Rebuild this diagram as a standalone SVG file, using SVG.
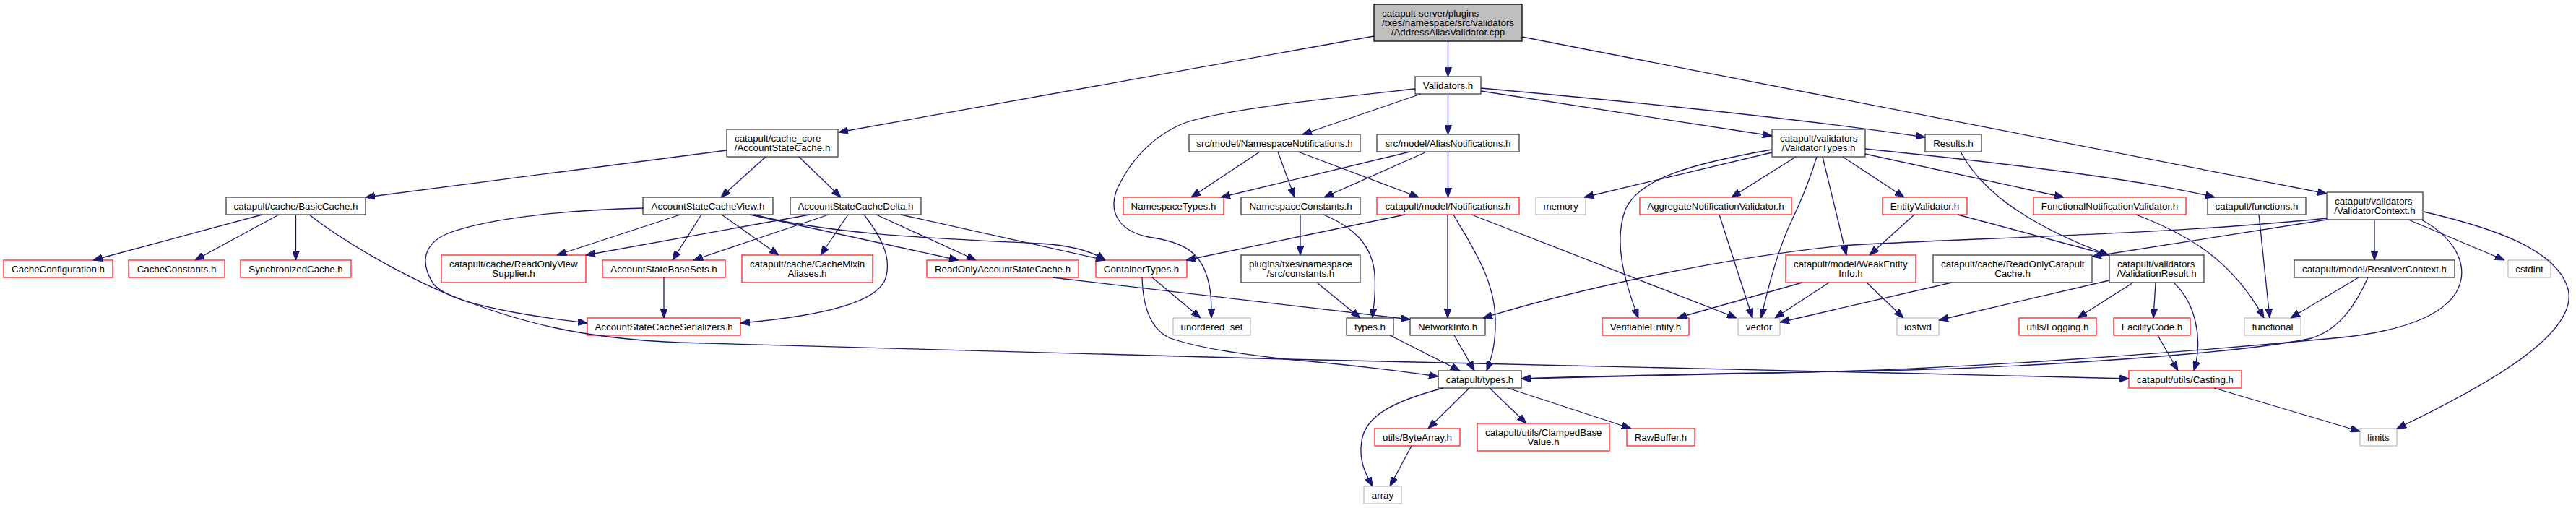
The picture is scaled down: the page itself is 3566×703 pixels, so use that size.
<svg xmlns="http://www.w3.org/2000/svg" width="3566" height="703" viewBox="0 0 3566 703">
<style>
rect{fill:#fff;stroke:#404040;stroke-width:1.3}
.r rect{stroke:#ff2020}
.g rect{stroke:#bfbfbf}
.root rect{fill:#bfbfbf;stroke:#000}
text{font-family:"Liberation Sans",Arial,Helvetica,sans-serif;font-size:13.33px;fill:#000}
.c{text-anchor:middle}
#edges path{fill:none;stroke:#191970;stroke-width:1.3;marker-end:url(#ah)}
</style>
<defs>
<marker id="ah" viewBox="0 0 13 10" refX="13" refY="5" markerWidth="13" markerHeight="10" markerUnits="userSpaceOnUse" orient="auto"><path d="M0,0 L13,5 L0,10 z" fill="#191970" stroke="#191970" stroke-width="1"/></marker>
</defs>
<rect x="0" y="0" width="3566" height="703" style="fill:#fff;stroke:none"/>

<g id="n_root" class="root"><rect x="1902" y="6" width="205" height="51"/><text x="1913" y="23.2">catapult-server/plugins</text><text x="1913" y="36">/txes/namespace/src/validators</text><text class="c" x="2004.5" y="48.8">/AddressAliasValidator.cpp</text></g>
<g id="n_validators"><rect x="1959" y="106" width="91" height="24"/><text class="c" x="2004.5" y="122.5">Validators.h</text></g>
<g id="n_accountstatecache"><rect x="1006" y="179" width="154" height="38"/><text x="1017" y="196.1">catapult/cache_core</text><text class="c" x="1083" y="208.9">/AccountStateCache.h</text></g>
<g id="n_nsnotif"><rect x="1646" y="186" width="237" height="24"/><text class="c" x="1764.5" y="202.5">src/model/NamespaceNotifications.h</text></g>
<g id="n_aliasnotif"><rect x="1906" y="186" width="197" height="24"/><text class="c" x="2004.5" y="202.5">src/model/AliasNotifications.h</text></g>
<g id="n_validatortypes"><rect x="2453" y="179" width="129" height="38"/><text x="2464" y="196.1">catapult/validators</text><text class="c" x="2517.5" y="208.9">/ValidatorTypes.h</text></g>
<g id="n_results"><rect x="2665" y="186" width="78" height="24"/><text class="c" x="2704" y="202.5">Results.h</text></g>

<g id="n_basiccache"><rect x="313" y="273" width="193" height="24"/><text class="c" x="409.5" y="289.5">catapult/cache/BasicCache.h</text></g>
<g id="n_ascview"><rect x="890" y="273" width="180" height="24"/><text class="c" x="980" y="289.5">AccountStateCacheView.h</text></g>
<g id="n_ascdelta"><rect x="1094" y="273" width="181" height="24"/><text class="c" x="1184.5" y="289.5">AccountStateCacheDelta.h</text></g>
<g id="n_nstypes" class="r"><rect x="1555" y="273" width="139" height="24"/><text class="c" x="1624.5" y="289.5">NamespaceTypes.h</text></g>
<g id="n_nsconstants"><rect x="1718" y="273" width="165" height="24"/><text class="c" x="1800.5" y="289.5">NamespaceConstants.h</text></g>
<g id="n_notifications" class="r"><rect x="1906" y="273" width="197" height="24"/><text class="c" x="2004.5" y="289.5">catapult/model/Notifications.h</text></g>
<g id="n_memory" class="g"><rect x="2126" y="273" width="69" height="24"/><text class="c" x="2160.5" y="289.5">memory</text></g>
<g id="n_aggregate" class="r"><rect x="2270" y="273" width="210" height="24"/><text class="c" x="2375" y="289.5">AggregateNotificationValidator.h</text></g>
<g id="n_entityvalidator" class="r"><rect x="2606" y="273" width="117" height="24"/><text class="c" x="2664.5" y="289.5">EntityValidator.h</text></g>
<g id="n_functionalnv" class="r"><rect x="2815" y="273" width="211" height="24"/><text class="c" x="2920.5" y="289.5">FunctionalNotificationValidator.h</text></g>
<g id="n_functions"><rect x="3056" y="273" width="136" height="24"/><text class="c" x="3124" y="289.5">catapult/functions.h</text></g>
<g id="n_validatorcontext"><rect x="3221" y="266" width="133" height="38"/><text x="3232" y="283.1">catapult/validators</text><text class="c" x="3287.5" y="295.9">/ValidatorContext.h</text></g>

<g id="n_cacheconfig" class="r"><rect x="5" y="360" width="151" height="24"/><text class="c" x="80.5" y="376.5">CacheConfiguration.h</text></g>
<g id="n_cacheconstants" class="r"><rect x="178" y="360" width="133" height="24"/><text class="c" x="244.5" y="376.5">CacheConstants.h</text></g>
<g id="n_synccache" class="r"><rect x="333" y="360" width="153" height="24"/><text class="c" x="409.5" y="376.5">SynchronizedCache.h</text></g>
<g id="n_rovs" class="r"><rect x="611" y="353" width="200" height="38"/><text x="622" y="370.1">catapult/cache/ReadOnlyView</text><text class="c" x="711" y="382.9">Supplier.h</text></g>
<g id="n_basesets" class="r"><rect x="834" y="360" width="170" height="24"/><text class="c" x="919" y="376.5">AccountStateBaseSets.h</text></g>
<g id="n_cachemixin" class="r"><rect x="1027" y="353" width="181" height="38"/><text x="1038" y="370.1">catapult/cache/CacheMixin</text><text class="c" x="1117.5" y="382.9">Aliases.h</text></g>
<g id="n_roasc" class="r"><rect x="1283" y="360" width="210" height="24"/><text class="c" x="1388" y="376.5">ReadOnlyAccountStateCache.h</text></g>
<g id="n_containertypes" class="r"><rect x="1517" y="360" width="126" height="24"/><text class="c" x="1580" y="376.5">ContainerTypes.h</text></g>
<g id="n_pluginsconstants"><rect x="1718" y="353" width="165" height="38"/><text x="1729" y="370.1">plugins/txes/namespace</text><text class="c" x="1800.5" y="382.9">/src/constants.h</text></g>
<g id="n_weakentity" class="r"><rect x="2472" y="353" width="180" height="38"/><text x="2483" y="370.1">catapult/model/WeakEntity</text><text class="c" x="2562" y="382.9">Info.h</text></g>
<g id="n_rocc"><rect x="2676" y="353" width="220" height="38"/><text x="2687" y="370.1">catapult/cache/ReadOnlyCatapult</text><text class="c" x="2786" y="382.9">Cache.h</text></g>
<g id="n_validationresult"><rect x="2920" y="353" width="131" height="38"/><text x="2931" y="370.1">catapult/validators</text><text class="c" x="2985.5" y="382.9">/ValidationResult.h</text></g>
<g id="n_resolvercontext"><rect x="3176" y="360" width="222" height="24"/><text class="c" x="3287" y="376.5">catapult/model/ResolverContext.h</text></g>
<g id="n_cstdint" class="g"><rect x="3472" y="360" width="59" height="24"/><text class="c" x="3501.5" y="376.5">cstdint</text></g>

<g id="n_serializers" class="r"><rect x="813" y="440" width="212" height="24"/><text class="c" x="919" y="456.5">AccountStateCacheSerializers.h</text></g>
<g id="n_unorderedset" class="g"><rect x="1624" y="440" width="107" height="24"/><text class="c" x="1677.5" y="456.5">unordered_set</text></g>
<g id="n_typesh"><rect x="1864" y="440" width="65" height="24"/><text class="c" x="1896.5" y="456.5">types.h</text></g>
<g id="n_networkinfo"><rect x="1952" y="440" width="104" height="24"/><text class="c" x="2004" y="456.5">NetworkInfo.h</text></g>
<g id="n_verifiable" class="r"><rect x="2218" y="440" width="120" height="24"/><text class="c" x="2278" y="456.5">VerifiableEntity.h</text></g>
<g id="n_vector" class="g"><rect x="2406" y="440" width="58" height="24"/><text class="c" x="2435" y="456.5">vector</text></g>
<g id="n_iosfwd" class="g"><rect x="2626" y="440" width="58" height="24"/><text class="c" x="2655" y="456.5">iosfwd</text></g>
<g id="n_logging" class="r"><rect x="2795" y="440" width="107" height="24"/><text class="c" x="2848.5" y="456.5">utils/Logging.h</text></g>
<g id="n_facility" class="r"><rect x="2926" y="440" width="106" height="24"/><text class="c" x="2979" y="456.5">FacilityCode.h</text></g>
<g id="n_functional" class="g"><rect x="3107" y="440" width="78" height="24"/><text class="c" x="3146" y="456.5">functional</text></g>

<g id="n_cattypes"><rect x="1991" y="513" width="115" height="24"/><text class="c" x="2048.5" y="529.5">catapult/types.h</text></g>
<g id="n_casting" class="r"><rect x="2947" y="513" width="156" height="24"/><text class="c" x="3025" y="529.5">catapult/utils/Casting.h</text></g>

<g id="n_bytearray" class="r"><rect x="1903" y="593" width="118" height="24"/><text class="c" x="1962" y="609.5">utils/ByteArray.h</text></g>
<g id="n_clamped" class="r"><rect x="2045" y="586" width="183" height="38"/><text x="2056" y="603.1">catapult/utils/ClampedBase</text><text class="c" x="2136.5" y="615.9">Value.h</text></g>
<g id="n_rawbuffer" class="r"><rect x="2252" y="593" width="94" height="24"/><text class="c" x="2299" y="609.5">RawBuffer.h</text></g>
<g id="n_limits" class="g"><rect x="3267" y="593" width="51" height="24"/><text class="c" x="3292.5" y="609.5">limits</text></g>
<g id="n_array" class="g"><rect x="1888" y="673" width="52" height="24"/><text class="c" x="1914" y="689.5">array</text></g>

<g id="edges">
<path d="M1902,50 L1161,183"/>
<path d="M2004.5,57 L2004.5,106"/>
<path d="M2107,51 L3221,268"/>
<path d="M1959,123 C1850,135 1700,150 1640,170 C1590,190 1560,230 1545,265 C1535,295 1550,320 1590,328 C1640,335 1660,350 1670,380 C1677,400 1677,420 1677,440"/>
<path d="M1967,130 L1803,186"/>
<path d="M2004.5,130 L2004.5,186"/>
<path d="M2050,122 C2250,140 2500,165 2665,190"/>
<path d="M2050,126 L2453,188"/>
<path d="M1006,208 L506,273"/>
<path d="M1060,217 L998,273"/>
<path d="M1106,217 L1164,273"/>
<path d="M363,297 L129,360"/>
<path d="M386,297 L270,360"/>
<path d="M409.5,297 L409.5,360"/>
<path d="M428,297 C470,330 560,385 640,415 C720,445 800,468 940,474 L1780,497 L2660,517 L2947,524"/>
<path d="M891,288 C800,290 680,300 620,323 C580,340 585,370 600,393 C615,410 650,420 700,430 C740,438 780,443 813,447"/>
<path d="M942,297 L771,353"/>
<path d="M1121,297 L811,353"/>
<path d="M971,297 L931,360"/>
<path d="M1147,297 L960,360"/>
<path d="M999,297 L1078,353"/>
<path d="M1174,297 L1136,353"/>
<path d="M1196,297 C1218,325 1235,355 1226,385 C1215,420 1130,438 1025,447"/>
<path d="M1038,297 L1327,360"/>
<path d="M1213,297 L1351,360"/>
<path d="M1044,297 C1150,325 1300,330 1440,337 C1490,340 1515,350 1530,360"/>
<path d="M1247,297 L1530,360"/>
<path d="M919,384 L919,440"/>
<path d="M1457,384 L1952,442"/>
<path d="M1595,384 L1662,440"/>
<path d="M1581,384 C1582,420 1590,455 1620,468 C1660,482 1720,490 1780,497 C1870,505 1950,515 1991,521"/>
<path d="M1744,210 L1649,273"/>
<path d="M1769,210 L1792,273"/>
<path d="M1797,210 L1964,273"/>
<path d="M1952,210 L1690,273"/>
<path d="M1975,210 L1833,273"/>
<path d="M2004.5,210 L2004.5,273"/>
<path d="M1800,297 L1800,353"/>
<path d="M1832,297 C1875,315 1900,340 1903,380 C1905,410 1901,425 1900,440"/>
<path d="M1823,391 L1883,440"/>
<path d="M1945,297 L1642,360"/>
<path d="M2004,297 L2004,440"/>
<path d="M2012,297 C2030,330 2068,380 2070,440 C2071,475 2065,495 2058,513"/>
<path d="M2037,297 L2404,440"/>
<path d="M2453,207 C2350,225 2270,245 2250,290 C2235,330 2245,380 2268,440"/>
<path d="M2453,211 L2193,273"/>
<path d="M2486,217 L2397,273"/>
<path d="M2515,217 C2505,250 2490,285 2478,310 C2462,345 2447,400 2438,440"/>
<path d="M2523,217 L2556,353"/>
<path d="M2551,217 L2636,273"/>
<path d="M2582,213 L2857,273"/>
<path d="M2582,206 C2700,218 2950,245 3066,273"/>
<path d="M2650,297 L2588,353"/>
<path d="M2710,297 L2919,353"/>
<path d="M2714,210 C2738,255 2790,305 2919,353"/>
<path d="M2957,297 C3030,325 3090,360 3134,440"/>
<path d="M3127,297 L3142,440"/>
<path d="M3221,302 C3000,325 2700,330 2550,340 C2400,355 2200,395 2053,440"/>
<path d="M3221,304 L2896,355"/>
<path d="M3287,304 L3287,360"/>
<path d="M3334,304 L3467,360"/>
<path d="M3352,304 C3400,330 3420,370 3400,405 C3375,445 3300,462 3231,468 C3000,490 2700,511 2500,515 C2300,518 2200,521 2106,524"/>
<path d="M3265,384 L3171,440"/>
<path d="M3278,384 C3262,420 3240,455 3200,468 C3100,490 2800,508 2640,512 C2400,517 2200,521 2106,524"/>
<path d="M3355,293 C3450,315 3540,345 3555,400 C3570,460 3450,530 3318,593"/>
<path d="M2920,388 L2684,443"/>
<path d="M2953,391 L2876,440"/>
<path d="M2984,391 L2981,440"/>
<path d="M3009,391 C3040,420 3050,470 3037,513"/>
<path d="M2987,464 L3015,513"/>
<path d="M3065,537 L3267,597"/>
<path d="M2702,391 L2464,446"/>
<path d="M2495,391 L2322,440"/>
<path d="M2532,391 L2457,440"/>
<path d="M2584,391 L2635,440"/>
<path d="M2380,297 L2426,440"/>
<path d="M1924,464 L2021,513"/>
<path d="M2013,464 L2041,513"/>
<path d="M1998,537 C1930,555 1890,575 1885,610 C1880,640 1893,660 1900,673"/>
<path d="M2034,537 L1977,593"/>
<path d="M2062,537 L2113,586"/>
<path d="M2087,537 L2258,593"/>
<path d="M1954,617 L1924,673"/>
</g>
</svg>
